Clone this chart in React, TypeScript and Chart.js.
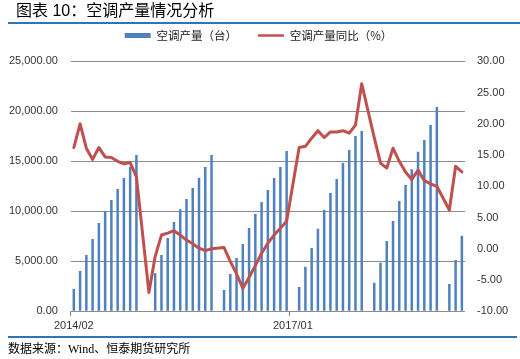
import React, { useEffect, useRef } from 'react';
import { Chart, registerables } from 'chart.js';

Chart.register(...registerables);

const months: string[] = [
  '2014/02', '2014/03', '2014/04', '2014/05', '2014/06', '2014/07', '2014/08', '2014/09', '2014/10', '2014/11', '2014/12',
  '2015/01', '2015/02', '2015/03', '2015/04', '2015/05', '2015/06', '2015/07', '2015/08', '2015/09', '2015/10', '2015/11', '2015/12',
  '2016/01', '2016/02', '2016/03', '2016/04', '2016/05', '2016/06', '2016/07', '2016/08', '2016/09', '2016/10', '2016/11', '2016/12',
  '2017/01', '2017/02', '2017/03', '2017/04', '2017/05', '2017/06', '2017/07', '2017/08', '2017/09', '2017/10', '2017/11', '2017/12',
  '2018/01', '2018/02', '2018/03', '2018/04', '2018/05', '2018/06', '2018/07', '2018/08', '2018/09', '2018/10', '2018/11', '2018/12',
  '2019/01', '2019/02', '2019/03', '2019/04',
];

// 空调产量（台）— cumulative, null where not published
const production: (number | null)[] = [
  2230, 4030, 5630, 7230, 8830, 10000, 11130, 12230, 13330, 14460, 15630,
  null, null, 3800, 5630, 7330, 8930, 10200, 11230, 12330, 13360, 14430, 15630,
  null, 2130, 3730, 5330, 6730, 8330, 9730, 10930, 12130, 13330, 14430, 16030,
  null, 2430, 4460, 6330, 8260, 10130, 11830, 13230, 14830, 16130, 17530, 18030,
  null, 2860, 4860, 7030, 9030, 11030, 12630, 14200, 15960, 17130, 18630, 20430,
  null, 2730, 5130, 7560,
];

// 空调产量同比（%）
const yoy: (number | null)[] = [
  16.2, 20.0, 16.1, 14.3, 16.2, 14.7, 14.6, 14.0, 13.6, 13.8, 11.5,
  null, -7.0, -1.2, 2.2, 2.5, 2.9, 2.2, 1.4, 0.8, 0.1, -0.3, 0.0,
  null, 0.2, -2.0, -4.0, -6.3, -4.6, -2.7, -0.7, 0.9, 2.2, 3.3, 4.4,
  null, 16.2, 16.4, 17.7, 18.9, 17.8, 18.7, 18.7, 18.9, 18.5, 19.8, 26.4,
  null, 17.8, 13.7, 12.9, 16.1, 14.0, 12.3, 11.1, 12.6, 10.9, 10.4, 10.0,
  null, 6.2, 13.2, 12.3,
];

const seriesNames = ['空调产量（台）', '空调产量同比（%）'];
const titleText = '图表 10：空调产量情况分析';
const sourceText = '数据来源：Wind、恒泰期货研究所';

const BLUE = '#4F81BD';
const RED = '#C0504D';
const GRID = '#8c8c8c';
const RULE = '#2E75B6';
const FONT = "'Liberation Sans', 'Noto Sans CJK SC', sans-serif";
const LEGEND_FONT = "'Noto Sans CJK SC', 'Liberation Sans', sans-serif";

export default function App() {
  const ref = useRef<HTMLCanvasElement>(null);

  useEffect(() => {
    if (!ref.current) return;
    const legendSpacer = {
      id: 'legendSpacer',
      beforeInit(chart: any) {
        const legend = chart.legend;
        if (!legend) return;
        const orig = legend.fit.bind(legend);
        legend.fit = function () {
          orig();
          this.height += 10;
        };
      },
    };

    const chart = new Chart(ref.current, {
      type: 'bar',
      data: {
        labels: months,
        datasets: [
          {
            type: 'bar',
            label: seriesNames[0],
            data: production,
            backgroundColor: BLUE,
            borderWidth: 0,
            categoryPercentage: 1,
            barPercentage: 0.4,
            yAxisID: 'y',
            order: 1,
          },
          {
            type: 'line',
            label: seriesNames[1],
            data: yoy,
            borderColor: RED,
            backgroundColor: RED,
            borderWidth: 3,
            pointRadius: 0,
            tension: 0,
            spanGaps: true,
            borderJoinStyle: 'round',
            borderCapStyle: 'round',
            yAxisID: 'y1',
            order: 0,
          },
        ] as any,
      },
      options: {
        animation: false,
        responsive: true,
        maintainAspectRatio: false,
        devicePixelRatio: 1,
        events: [],
        layout: { padding: { left: 9, right: 12, top: 8.8, bottom: 25.7 } },
        plugins: {
          tooltip: { enabled: false },
          title: { display: false },
          legend: {
            display: true,
            position: 'top',
            labels: {
              usePointStyle: true,
              pointStyleWidth: 26,
              padding: 21,
              color: '#222',
              font: { family: LEGEND_FONT, size: 11.5 },
              generateLabels: () => [
                { text: seriesNames[0], fillStyle: BLUE, strokeStyle: BLUE, lineWidth: 5, pointStyle: 'line', hidden: false, datasetIndex: 0, fontColor: '#222' } as any,
                { text: seriesNames[1], fillStyle: RED, strokeStyle: RED, lineWidth: 2.5, pointStyle: 'line', hidden: false, datasetIndex: 1, fontColor: '#222' } as any,
              ],
            },
          },
        },
        scales: {
          x: {
            offset: true,
            afterFit: (s: any) => { s.height = 22; },
            grid: {
              offset: true,
              drawOnChartArea: false,
              drawTicks: true,
              tickLength: 5,
              color: (ctx: any) => (ctx.index % 35 === 0 ? GRID : 'rgba(0,0,0,0)'),
            },
            border: { display: false },
            ticks: {
              autoSkip: false,
              maxRotation: 0,
              minRotation: 0,
              padding: 3,
              color: '#333',
              font: { family: FONT, size: 11 },
              callback: (_v: any, i: number) => (i % 35 === 0 ? months[i] : ''),
            },
          },
          y: {
            position: 'left',
            min: 0,
            max: 25000,
            afterFit: (s: any) => { s.width = 61.7; },
            grid: { color: GRID, lineWidth: 1, drawTicks: false },
            border: { display: false },
            ticks: {
              stepSize: 5000,
              padding: 12.8,
              color: '#333',
              font: { family: FONT, size: 11 },
              callback: (v: any) =>
                Number(v).toLocaleString('en-US', { minimumFractionDigits: 2, maximumFractionDigits: 2 }),
            },
          },
          y1: {
            position: 'right',
            min: -10,
            max: 30,
            afterFit: (s: any) => { s.width = 43; },
            grid: { drawOnChartArea: false, drawTicks: false },
            border: { display: false },
            ticks: {
              stepSize: 5,
              padding: 12,
              color: '#333',
              font: { family: FONT, size: 11 },
              callback: (v: any) => Number(v).toFixed(2),
            },
          },
        },
      } as any,
      plugins: [legendSpacer],
    });
    return () => chart.destroy();
  }, []);

  return (
    <div style={{ position: 'absolute', left: 0, top: 0, width: 520, height: 359, background: '#fff', overflow: 'hidden' }}>
      <canvas ref={ref} style={{ position: 'absolute', left: 0, top: 0 }} />
      <div
        style={{
          position: 'absolute',
          left: 16,
          top: 1,
          height: 20,
          lineHeight: '20px',
          fontSize: 16,
          fontFamily: "'Liberation Sans', 'Noto Sans CJK SC', sans-serif",
          color: '#000',
          whiteSpace: 'nowrap',
        }}
      >
        {titleText}
      </div>
      <div style={{ position: 'absolute', left: 8, top: 22, width: 512, height: 2, background: RULE }} />
      <div style={{ position: 'absolute', left: 8, top: 336, width: 509, height: 2, background: RULE }} />
      <div
        style={{
          position: 'absolute',
          left: 8,
          top: 341,
          height: 16,
          lineHeight: '16px',
          fontSize: 12,
          fontFamily: "'Liberation Serif', 'Noto Sans CJK SC', serif",
          color: '#000',
          whiteSpace: 'nowrap',
        }}
      >
        {sourceText}
      </div>
    </div>
  );
}
